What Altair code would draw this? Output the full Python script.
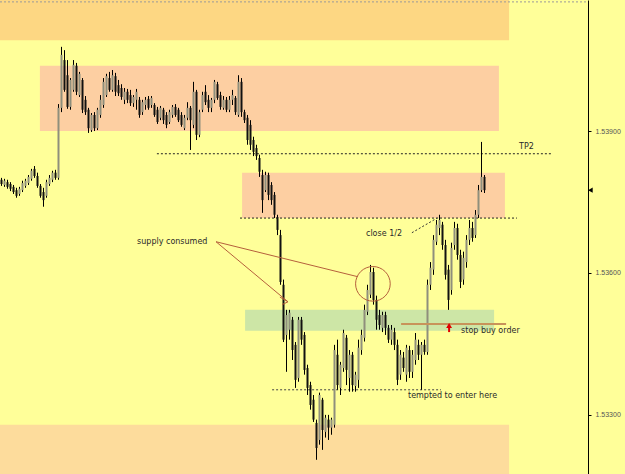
import altair as alt
import pandas as pd

# ---------------- candle data (price in 1/100000 units above 1.0) ----------------
opens = [53797,53786,53792,53788,53782,53775,53767,53775,53784,53790,
         53799,53820,53805,53784,53771,53763,53788,53797,53812,53801,
         53949,54050,54018,53951,53987,54038,53976,54008,53966,53945,
         53902,53934,53906,53934,53955,53976,54012,53987,54016,53997,
         53991,53966,53983,53976,53959,53966,53966,53940,53955,53968,
         53955,53955,53945,53928,53945,53934,53919,53934,53951,53945,
         53934,53906,53928,53949,53913,53983,53892,53945,53983,53966,
         53949,53966,53999,53976,53949,53966,53945,53966,53970,53934,
         54004,53940,53928,53913,53881,53864,53843,53807,53775,53807,
         53786,53765,53718,53680,53575,53469,53480,53501,53448,53378,
         53501,53469,53399,53363,53332,53283,53247,53332,53264,53290,
         53273,53279,53427,53357,53399,53463,53378,53427,53361,53374,
         53437,53463,53518,53554,53602,53543,53511,53484,53511,53484,
         53459,53475,53448,53385,53421,53385,53437,53391,53416,53448,
         53427,53448,53433,53575,53607,53666,53695,53702,53659,53607,
         53564,53659,53695,53638,53586,53623,53670,53695,53680,53723,
         53775,53803]
highs = [53801,53799,53797,53792,53786,53780,53782,53795,53799,53807,
         53820,53826,53812,53788,53780,53797,53807,53816,53818,53957,
         54078,54071,54050,54012,54050,54044,54025,54012,53974,53949,
         53938,53940,53949,53976,54012,54021,54025,54029,54023,54008,
         53999,53991,53989,53987,53976,53989,53972,53966,53972,53974,
         53974,53959,53951,53953,53949,53940,53945,53955,53957,53949,
         53940,53934,53961,53953,54004,53987,53945,53983,53997,53976,
         53970,54008,54004,53983,53974,53972,53974,53987,53974,54018,
         54012,53945,53934,53923,53888,53871,53850,53818,53814,53812,
         53792,53771,53723,53691,53586,53522,53522,53507,53454,53507,
         53507,53475,53406,53370,53342,53290,53347,53336,53300,53300,
         53294,53448,53459,53412,53480,53469,53437,53433,53391,53459,
         53480,53533,53575,53617,53611,53552,53522,53518,53518,53490,
         53490,53484,53459,53437,53433,53448,53446,53437,53473,53459,
         53454,53459,53586,53623,53680,53712,53723,53708,53670,53617,
         53664,53708,53704,53649,53645,53680,53712,53708,53733,53786,
         53877,53807]
lows = [53784,53782,53778,53773,53767,53759,53763,53771,53780,53786,
        53795,53801,53780,53759,53740,53759,53784,53792,53797,53797,
        53940,53983,53947,53945,53983,53976,53972,53938,53934,53896,
        53898,53900,53902,53928,53949,53972,53983,53983,53974,53974,
        53966,53957,53959,53953,53951,53945,53928,53934,53945,53945,
        53949,53930,53915,53923,53915,53906,53915,53928,53930,53919,
        53909,53902,53923,53860,53906,53881,53887,53940,53955,53940,
        53940,53959,53966,53945,53945,53940,53940,53955,53934,53930,
        53930,53917,53871,53860,53847,53839,53803,53727,53771,53754,
        53744,53716,53680,53575,53454,53391,53459,53416,53357,53370,
        53448,53385,53342,53311,53285,53205,53237,53226,53252,53247,
        53258,53273,53353,53342,53391,53363,53349,53349,53349,53357,
        53427,53455,53511,53547,53533,53480,53480,53475,53469,53452,
        53448,53437,53363,53374,53391,53370,53378,53378,53406,53416,
        53353,53427,53427,53564,53596,53659,53680,53649,53586,53522,
        53554,53649,53628,53568,53575,53611,53659,53666,53674,53716,
        53771,53769]
closes = [53788,53795,53782,53778,53771,53763,53778,53790,53795,53803,
          53816,53805,53784,53763,53754,53792,53801,53812,53801,53949,
          54061,53987,53951,54008,54040,53983,54021,53945,53940,53906,
          53934,53906,53945,53966,54004,54016,53987,54018,53983,53980,
          53972,53983,53966,53959,53972,53983,53934,53961,53966,53949,
          53970,53934,53919,53949,53923,53913,53940,53951,53934,53923,
          53913,53928,53949,53923,53983,53892,53940,53976,53961,53949,
          53966,54004,53970,53951,53966,53945,53966,53976,53940,54004,
          53940,53923,53881,53871,53856,53847,53814,53754,53807,53765,
          53754,53723,53691,53581,53459,53511,53516,53437,53374,53501,
          53459,53395,53357,53321,53290,53230,53342,53268,53294,53273,
          53290,53437,53363,53406,53473,53395,53427,53363,53385,53442,
          53469,53522,53564,53602,53543,53501,53490,53511,53484,53459,
          53480,53448,53374,53427,53399,53442,53391,53427,53459,53427,
          53448,53433,53575,53611,53670,53702,53712,53659,53596,53543,
          53653,53695,53638,53581,53632,53670,53695,53674,53723,53775,
          53803,53775]

# ---------------- zones ----------------
zone_x1 = [-0.5, 12.8, 80.2, 81.2, -0.5]
zone_x2 = [169.2, 165.8, 167.8, 164.2, 169.2]
zone_lo = [54092, 53900, 53716, 53478, 53175]
zone_hi = [54177, 54038, 53812, 53522, 53279]
zone_colors = ["#FDD783", "#FDCFA2", "#FDCFA2", "#CDE6A6", "#FDDC9C"]

# dotted horizontal levels
lvl_x1 = [-0.5, 51.8, 79.5, 90.2]
lvl_x2 = [195.5, 183.2, 171.8, 146.5]
lvl_y = [54173, 53852, 53716, 53353]
lvl_colors = ["#9a9a9a", "#222222", "#222222", "#444444"]

# annotation texts
txt = ["supply consumed", "TP2", "close 1/2", "stop buy order", "tempted to enter here"]
txt_x = [45.2, 172.5, 121.5, 153.2, 135.5]
txt_y = [53666, 53866, 53683, 53478, 53340]

# brown annotation segments
seg_x1 = [71.5, 71.5, 92.8, 93.5]
seg_x2 = [95.5, 118.8, 95.5, 95.5]
seg_y1 = [53666, 53666, 53549, 53533]
seg_y2 = [53539, 53592, 53539, 53539]

tick_vals = [1.533, 1.536, 1.539]

def px(v):
    return 1 + v / 100000.0

cdf = pd.DataFrame({
    "i": list(range(len(opens))),
    "open": [px(v) for v in opens],
    "high": [px(v) for v in highs],
    "low": [px(v) for v in lows],
    "close": [px(v) for v in closes],
})
cdf["col"] = ["#8f8f7c" if c > o else "#111111" for o, c in zip(opens, closes)]

zdf = pd.DataFrame({"x1": zone_x1, "x2": zone_x2,
                    "lo": [px(v) for v in zone_lo], "hi": [px(v) for v in zone_hi],
                    "col": zone_colors})
ldf = pd.DataFrame({"x1": lvl_x1, "x2": lvl_x2, "y": [px(v) for v in lvl_y], "col": lvl_colors})
tdf = pd.DataFrame({"t": txt, "x": txt_x, "y": [px(v) for v in txt_y]})
sdf = pd.DataFrame({"x1": seg_x1, "x2": seg_x2,
                    "y1": [px(v) for v in seg_y1], "y2": [px(v) for v in seg_y2]})

xs = alt.Scale(domain=[-0.5, 195.5], nice=False, zero=False, padding=0)
ys = alt.Scale(domain=[1.53175, 1.54177], nice=False, zero=False, padding=0)
yaxis = alt.Axis(values=tick_vals, format=".5f", orient="right", grid=False, title=None,
                 tickSize=3, tickColor="#000000", domainColor="#000000", domainWidth=1,
                 labelFontSize=7, labelColor="#555555", labelFont="Liberation Sans",
                 labelPadding=4)

def X(f):
    return alt.X(f, type="quantitative", scale=xs, axis=None)

def Y(f):
    return alt.Y(f, type="quantitative", scale=ys, axis=yaxis)

zones = alt.Chart(zdf).mark_rect().encode(
    x=X("x1"), x2="x2", y=Y("lo"), y2="hi", color=alt.Color("col:N", scale=None))

levels = alt.Chart(ldf).mark_rule(strokeDash=[2, 2], strokeWidth=1).encode(
    x=X("x1"), x2="x2", y=Y("y"), color=alt.Color("col:N", scale=None))

wicks = alt.Chart(cdf).mark_rule(color="#000000", strokeWidth=1).encode(
    x=X("i"), y=Y("low"), y2="high")

bodies = alt.Chart(cdf).mark_bar(size=2).encode(
    x=X("i"), y=Y("open"), y2="close", color=alt.Color("col:N", scale=None))

segs = alt.Chart(sdf).mark_rule(color="#b5603c", strokeWidth=1).encode(
    x=X("x1"), x2="x2", y=Y("y1"), y2="y2")

circ_df = pd.DataFrame({"x": [123.8], "y": [px(53577)]})
circle = alt.Chart(circ_df).mark_point(shape="circle", size=1200, filled=False,
                                       color="#b5603c", strokeWidth=1, opacity=1).encode(
    x=X("x"), y=Y("y"))

conn_df = pd.DataFrame({"x1": [136.8], "x2": [145.2], "y1": [px(53685)], "y2": [px(53716)]})
conn = alt.Chart(conn_df).mark_rule(strokeDash=[2, 2], color="#333333").encode(
    x=X("x1"), x2="x2", y=Y("y1"), y2="y2")

stop_df = pd.DataFrame({"x1": [133.2], "x2": [168.2], "y": [px(53492)]})
stop = alt.Chart(stop_df).mark_rule(color="#c8935a", strokeWidth=2).encode(
    x=X("x1"), x2="x2", y=Y("y"))

arr_df = pd.DataFrame({"x": [149.2], "y": [px(53489)], "y1": [px(53487)], "y2": [px(53475)]})
arr_head = alt.Chart(arr_df).mark_point(shape="triangle-up", size=35, filled=True,
                                        color="#e00000", opacity=1).encode(x=X("x"), y=Y("y"))
arr_stem = alt.Chart(arr_df).mark_rule(color="#e00000", strokeWidth=2).encode(
    x=X("x"), y=Y("y1"), y2="y2")

mk_df = pd.DataFrame({"x": [196.3], "y": [px(53775)]})
marker = alt.Chart(mk_df).mark_point(shape="triangle-left", size=28, filled=True,
                                     color="#000000", opacity=1).encode(x=X("x"), y=Y("y"))

texts = alt.Chart(tdf).mark_text(align="left", baseline="middle", font="DejaVu Sans",
                                 fontSize=8, color="#2a2a2a").encode(
    x=X("x"), y=Y("y"), text="t:N")

chart = alt.layer(
    zones, levels, wicks, bodies, segs, circle, conn, stop, arr_stem, arr_head, marker, texts
).properties(
    width=588, height=474,
    padding={"left": 0, "top": 0, "right": 37, "bottom": 0},
    autosize=alt.AutoSizeParams(type="none"),
    background="#FFFF99",
).configure_view(stroke=None, fill="#FFFF99")

chart.save("out.html", embed_options={"renderer": "svg", "actions": False})
